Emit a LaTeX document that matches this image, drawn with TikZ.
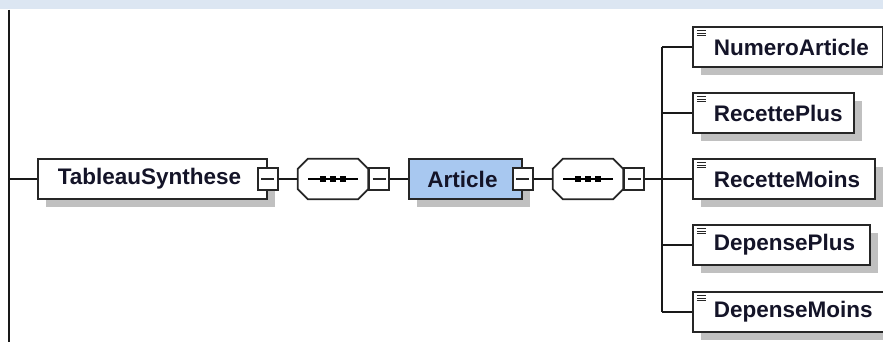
\documentclass[tikz,border=0pt]{standalone}
\usepackage{fontspec}
\setmainfont{Liberation Sans}
\usetikzlibrary{shadows}
\definecolor{topbar}{RGB}{220,230,242}
\definecolor{artfill}{RGB}{168,200,240}
\definecolor{shade}{RGB}{192,192,192}
\definecolor{ink}{RGB}{20,20,40}
\begin{document}
\begin{tikzpicture}[x=1pt,y=-1pt,
  every node/.style={font=\fontsize{22.5}{26}\selectfont\bfseries, text=ink},
  conn/.style={line width=2pt, draw=black!90},
  shadowed/.style={drop shadow={shadow xshift=8pt, shadow yshift=-8pt, fill=shade, opacity=1}},
  elem/.style={draw=black!85, line width=1.8pt, fill=white, minimum height=40pt, inner sep=0pt, shadowed},
  minusbox/.style={draw=black!85, line width=1.6pt, fill=white, minimum width=20pt, minimum height=22pt, inner sep=0pt,
    path picture={\draw[line width=1.6pt] ([xshift=3.5pt]path picture bounding box.west) -- ([xshift=-3.5pt]path picture bounding box.east);}},
  compframe/.style={minimum width=70pt, minimum height=40pt, inner sep=0pt},
  octline/.style={draw=black!85, line width=1.8pt, fill=white},
  child/.style={elem, anchor=west, align=left, text width=#1, minimum width=#1,
    path picture={
      \foreach \k in {3.8,6.3,8.8}
        \draw[line width=1.1pt] ([xshift=4pt,yshift=-\k pt]path picture bounding box.north west) -- ++(9,0);
    }}
]
\useasboundingbox (0,0) rectangle (883,342);
\fill[topbar] (0,0) rectangle (883,9);

\coordinate (ltop) at (8.5,10);
\coordinate (lbot) at (8.5,342);
\coordinate (bus) at (662,179);

\node[elem, minimum width=229pt] (ts) at (152.5,179) {TableauSynthese\hspace*{6pt}};
\node[compframe] (seq1) at (333,179) {};
\node[elem, fill=artfill, minimum width=113pt] (art) at (465.5,179) {Article\hspace*{6pt}};
\node[compframe] (seq2) at (588,179) {};

\foreach \s in {seq1,seq2} {
  \fill[shade, shift={(8,8)}]
    ([yshift=-10pt]\s.north west) -- ([xshift=10pt]\s.north west) -- ([xshift=-10pt]\s.north east)
    -- ([yshift=-10pt]\s.north east) -- ([yshift=10pt]\s.south east) -- ([xshift=-10pt]\s.south east)
    -- ([xshift=10pt]\s.south west) -- ([yshift=10pt]\s.south west) -- cycle;
  \path[octline]
    ([yshift=-10pt]\s.north west) -- ([xshift=10pt]\s.north west) -- ([xshift=-10pt]\s.north east)
    -- ([yshift=-10pt]\s.north east) -- ([yshift=10pt]\s.south east) -- ([xshift=-10pt]\s.south east)
    -- ([xshift=10pt]\s.south west) -- ([yshift=10pt]\s.south west) -- cycle;
  \draw[line width=1.6pt] ([xshift=-25pt]\s.center) -- ([xshift=25pt]\s.center);
  \foreach \dx in {-10,0,10}
    \fill[black] ([xshift=\dx pt]\s.center) +(-2.8,-2.8) rectangle +(2.8,2.8);
}

\node[child=190pt] (c1) at (692,47)  {\mbox{\hspace*{21pt}NumeroArticle}};
\node[child=161pt] (c2) at (692,113) {\mbox{\hspace*{21pt}RecettePlus}};
\node[child=182pt] (c3) at (692,179) {\mbox{\hspace*{21pt}RecetteMoins}};
\node[child=177pt] (c4) at (692,245) {\mbox{\hspace*{21pt}DepensePlus}};
\node[child=196pt] (c5) at (692,312) {\mbox{\hspace*{21pt}DepenseMoins}};

\node[minusbox] (m1) at (ts.east) {};
\node[minusbox, anchor=west] (m2) at (seq1.east) {};
\node[minusbox] (m3) at (art.east) {};
\node[minusbox, anchor=west] (m4) at (seq2.east) {};

\draw[conn] (ltop) -- (lbot);
\draw[conn] (ltop |- ts.west) -- (ts.west);
\draw[conn] (m1.east) -- (seq1.west);
\draw[conn] (m2.east) -- (art.west);
\draw[conn] (m3.east) -- (seq2.west);
\draw[conn] (m4.east) -- (bus);
\draw[conn] (bus |- c1.west) -- (bus |- c5.west);
\foreach \c in {c1,c2,c3,c4,c5}
  \draw[conn] (bus |- \c.west) -- (\c.west);
\end{tikzpicture}
\end{document}
